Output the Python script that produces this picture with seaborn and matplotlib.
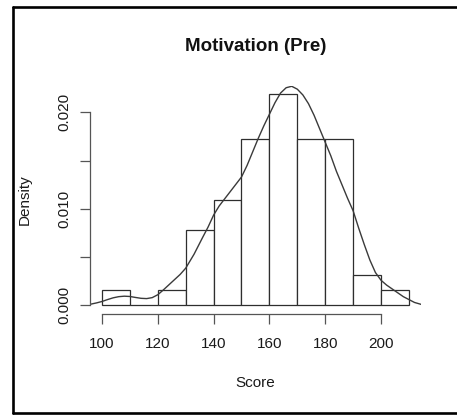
import matplotlib
matplotlib.use("Agg")
import matplotlib.pyplot as plt
from matplotlib.lines import Line2D
import pandas as pd
import seaborn as sns

# Histogram of pre-test motivation scores (bin edges and counts per bin)
bin_edges = [100, 110, 120, 130, 140, 150, 160, 170, 180, 190, 200, 210]
bin_counts = [1, 0, 1, 5, 7, 11, 14, 11, 11, 2, 1]

# Kernel density curve drawn over the histogram
curve_score = [95.6, 98, 100, 102, 104, 106, 108, 110, 112, 114, 116, 118,
               120, 122, 125, 128, 130, 133, 136, 138, 140, 142, 144, 146,
               148, 150, 152, 154, 156, 158, 160, 162, 164, 166, 168, 170,
               172, 174, 176, 178, 180, 182, 184, 186, 188, 190, 192, 194,
               196, 198, 200, 202, 204, 206, 208, 210, 212, 214.4]
curve_density = [0.00010, 0.00025, 0.00040, 0.00060, 0.00078, 0.00090,
                 0.00095, 0.00092, 0.00082, 0.00073, 0.00070, 0.00080,
                 0.00110, 0.00160, 0.00240, 0.00320, 0.00385, 0.00530,
                 0.00700, 0.00810, 0.00935, 0.01030, 0.01105, 0.01180,
                 0.01255, 0.01330, 0.01450, 0.01590, 0.01730, 0.01860,
                 0.01980, 0.02100, 0.02200, 0.02255, 0.02270, 0.02240,
                 0.02180, 0.02090, 0.01970, 0.01830, 0.01690, 0.01550,
                 0.01390, 0.01250, 0.01110, 0.00980, 0.00800, 0.00630,
                 0.00470, 0.00340, 0.00260, 0.00210, 0.00170, 0.00130,
                 0.00090, 0.00060, 0.00030, 0.00010]

x_ticks = [100, 120, 140, 160, 180, 200]
y_ticks = [0.0, 0.005, 0.010, 0.015, 0.020]
y_tick_labels = ["0.000", "", "0.010", "", "0.020"]

title_text = "Motivation (Pre)"
x_label = "Score"
y_label = "Density"

sns.set_theme(style="white")
plt.rcParams["font.family"] = ["Liberation Sans", "DejaVu Sans"]

W, H = 457, 415
fig = plt.figure(figsize=(W / 100, H / 100), dpi=100)
fig.patch.set_facecolor("white")

# plot region in pixels: x 89.7..421.2, y 85.8..313.8 (from top)
left, right, top, bottom = 89.7, 421.2, 85.8, 313.8
ax = fig.add_axes([left / W, 1 - bottom / H, (right - left) / W, (bottom - top) / H])
ax.set_facecolor("white")

mids = [(a + b) / 2 for a, b in zip(bin_edges[:-1], bin_edges[1:])]
bins_df = pd.DataFrame({"score": mids, "count": bin_counts})
sns.histplot(data=bins_df, x="score", weights="count", bins=bin_edges,
             stat="density", color="white", edgecolor="#2e2e2e",
             linewidth=0.9, alpha=1, ax=ax)

curve_df = pd.DataFrame({"score": curve_score, "density": curve_density})
sns.lineplot(data=curve_df, x="score", y="density", color="#3a3a3a",
             linewidth=1.0, ax=ax)

ax.set_xlim(95.6, 214.4)
ax.set_ylim(-0.000875, 0.02275)

for side in ("top", "right"):
    ax.spines[side].set_visible(False)
for side in ("left", "bottom"):
    ax.spines[side].set_color("#555555")
    ax.spines[side].set_linewidth(0.9)
ax.spines["left"].set_bounds(0.0, 0.020)
ax.spines["bottom"].set_bounds(100, 200)

ax.set_xticks(x_ticks)
ax.set_xticklabels([str(t) for t in x_ticks])
ax.set_yticks(y_ticks)
ax.set_yticklabels(y_tick_labels, rotation=90, va="center")
ax.tick_params(axis="both", which="major", bottom=True, left=True,
               direction="out", length=7, width=0.9,
               color="#555555", labelsize=11, labelcolor="#1a1a1a")
ax.tick_params(axis="x", pad=9.5)
ax.tick_params(axis="y", pad=6.5)
ax.set_xlabel("")
ax.set_ylabel("")

cx = (left + right) / 2
cy = (top + bottom) / 2
fig.text(cx / W, 1 - 46.5 / H, title_text, ha="center", va="center",
         fontsize=13.5, fontweight="bold", color="#111111")
fig.text(cx / W, 1 - 383 / H, x_label, ha="center", va="center",
         fontsize=11, color="#1a1a1a")
fig.text(25 / W, 1 - cy / H, y_label, ha="center", va="center",
         rotation=90, fontsize=11, color="#1a1a1a")

# outer frame (left, top and bottom edges)
frame_kw = dict(color="black", linewidth=1.9, transform=fig.transFigure)
fig.add_artist(Line2D([13 / W, 13 / W], [1 - 7 / H, 1 - 412.5 / H], **frame_kw))
fig.add_artist(Line2D([13 / W, 1.0], [1 - 7 / H, 1 - 7 / H], **frame_kw))
fig.add_artist(Line2D([13 / W, 1.0], [1 - 412.5 / H, 1 - 412.5 / H], **frame_kw))

fig.savefig("out.png", dpi=100)
